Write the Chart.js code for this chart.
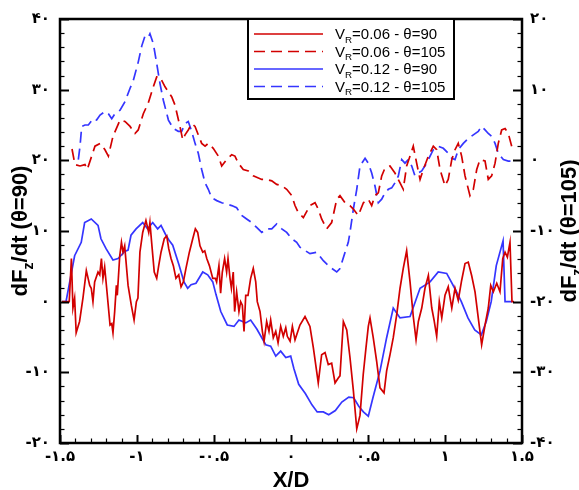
<!DOCTYPE html>
<html><head><meta charset="utf-8">
<script src="https://cdn.jsdelivr.net/npm/chart.js@4.4.1/dist/chart.umd.min.js"></script>
<style>html,body{margin:0;padding:0;background:#fff;}canvas{display:block;}</style>
</head><body>
<canvas id="c" width="579" height="490"></canvas>
<script>
// ---- data (left axis: theta=90 ; right axis: theta=105) ----
const redSolidX = [-1.487,-1.44,-1.426,-1.416,-1.405,-1.395,-1.373,-1.351,-1.329,-1.307,-1.297,-1.286,-1.275,-1.253,-1.242,-1.231,-1.221,-1.21,-1.197,-1.175,-1.164,-1.156,-1.145,-1.134,-1.128,-1.112,-1.101,-1.091,-1.08,-1.058,-1.037,-1.019,-1.004,-0.994,-0.981,-0.963,-0.942,-0.924,-0.916,-0.903,-0.888,-0.872,-0.859,-0.844,-0.823,-0.807,-0.794,-0.779,-0.764,-0.747,-0.729,-0.714,-0.699,-0.682,-0.66,-0.638,-0.621,-0.606,-0.591,-0.573,-0.56,-0.547,-0.53,-0.508,-0.491,-0.483,-0.468,-0.457,-0.446,-0.431,-0.418,-0.409,-0.396,-0.387,-0.375,-0.366,-0.353,-0.338,-0.327,-0.316,-0.305,-0.294,-0.279,-0.262,-0.245,-0.229,-0.219,-0.201,-0.186,-0.175,-0.158,-0.143,-0.132,-0.115,-0.099,-0.084,-0.067,-0.05,-0.034,-0.024,-0.006,0.009,0.026,0.058,0.091,0.123,0.145,0.177,0.199,0.221,0.242,0.264,0.286,0.307,0.318,0.34,0.362,0.383,0.405,0.427,0.448,0.469,0.487,0.502,0.513,0.534,0.556,0.578,0.604,0.621,0.643,0.664,0.686,0.708,0.729,0.751,0.773,0.794,0.812,0.827,0.849,0.87,0.892,0.914,0.929,0.946,0.963,0.979,1.0,1.021,1.044,1.065,1.086,1.108,1.13,1.151,1.173,1.195,1.216,1.238,1.26,1.281,1.297,1.314,1.336,1.357,1.375,1.39,1.405,1.422,1.435,1.448];
const redSolidY = [0,0,6.1,-0.9,0.5,-4.4,-2.8,0.5,4.4,2.3,1.9,0,2.8,4.2,3.8,6.1,3.3,4.9,1.9,-3.3,-3.1,-4.4,-1.4,2.3,0.9,6.5,8.4,7.0,7.9,2.3,-0.5,-2.6,0,0.5,7.0,9.8,11.5,9.8,11.2,7.9,4.2,3.3,5.1,7.0,8.9,9.3,7.5,6.1,5.1,3.3,3.8,2.1,2.8,4.7,7.0,8.9,10.3,9.8,7.9,7.0,7.2,6.1,5.1,3.3,3.3,2.8,5.1,1.2,4.2,6.1,4.2,6.1,3.3,1.9,4.2,-1.4,1.4,-1.4,0,-0.5,-4.2,0.9,0.9,3.3,4.7,2.8,0,-1.4,-4.2,-5.6,-2.8,-4.2,-2.6,-5.1,-4.2,-5.8,-3.5,-4.9,-3.7,-4.9,-5.6,-3.5,-5.4,-3.3,-2.1,-3.5,-6.5,-11.5,-7.5,-7.2,-8.9,-8.7,-11.5,-10.8,-10.5,-2.8,-4.0,-7.9,-12.6,-18.0,-16.1,-10.3,-6.5,-3.5,-2.3,-5.1,-8.4,-12.2,-12.9,-9.8,-7.5,-5.1,-1.9,1.9,4.7,7.2,2.8,-2.1,-5.4,-2.8,-0.9,1.9,3.7,-0.9,-2.6,-4.9,0,-2.3,0.9,2.1,-0.9,1.9,0.2,3.0,5.4,5.6,3.7,1.4,-2.3,-6.1,-3.3,-0.9,2.3,1.4,2.6,1.4,6.1,7.0,6.3,8.4,0,0];

const blueSolidX = [-1.487,-1.461,-1.405,-1.362,-1.34,-1.297,-1.253,-1.234,-1.201,-1.156,-1.123,-1.08,-1.058,-1.039,-1.006,-0.963,-0.931,-0.898,-0.866,-0.844,-0.812,-0.792,-0.768,-0.727,-0.695,-0.671,-0.649,-0.617,-0.573,-0.541,-0.508,-0.487,-0.456,-0.414,-0.37,-0.338,-0.294,-0.262,-0.221,-0.164,-0.132,-0.099,-0.067,-0.034,-0.002,0.019,0.05,0.093,0.136,0.17,0.21,0.245,0.288,0.33,0.375,0.407,0.44,0.47,0.502,0.532,0.578,0.621,0.664,0.708,0.773,0.838,0.903,0.956,1.011,1.063,1.106,1.149,1.193,1.236,1.268,1.3,1.333,1.377,1.39,1.435];
const blueSolidY = [0,0,6.5,8.4,11.2,11.7,10.8,8.9,7.5,5.9,6.1,7.1,7.3,9.4,10.3,11.2,10.3,11.2,10.3,10.8,9.4,8.7,8.0,5.2,2.8,1.9,2.4,2.6,4.2,3.8,2.8,1.0,-1.4,-3.3,-3.5,-2.6,-3.0,-2.6,-3.9,-6.1,-6.3,-7.7,-7.0,-7.9,-7.7,-9.5,-11.7,-13.0,-14.6,-15.6,-15.6,-16.0,-15.4,-14.2,-13.5,-13.6,-14.8,-15.6,-16.2,-13.6,-9.8,-5.1,-0.9,-2.3,-2.1,1.9,2.8,4.2,4.0,1.9,0,-2.3,-4.0,-4.7,-2.8,0,5.1,8.6,0,0];

const redDashX = [-1.422,-1.403,-1.37,-1.338,-1.323,-1.273,-1.24,-1.208,-1.186,-1.156,-1.11,-1.078,-1.045,-1.013,-0.992,-0.959,-0.927,-0.894,-0.872,-0.851,-0.818,-0.796,-0.775,-0.753,-0.721,-0.703,-0.688,-0.667,-0.645,-0.623,-0.602,-0.58,-0.558,-0.537,-0.505,-0.472,-0.45,-0.418,-0.385,-0.364,-0.342,-0.31,-0.277,-0.245,-0.212,-0.19,-0.158,-0.125,-0.093,-0.06,-0.028,0.005,0.026,0.047,0.08,0.123,0.156,0.177,0.199,0.232,0.264,0.297,0.318,0.351,0.383,0.405,0.437,0.47,0.502,0.524,0.545,0.567,0.589,0.61,0.643,0.675,0.708,0.729,0.751,0.773,0.794,0.816,0.838,0.859,0.892,0.924,0.946,0.968,1.0,1.021,1.044,1.065,1.086,1.108,1.13,1.162,1.184,1.206,1.227,1.26,1.281,1.303,1.325,1.346,1.368,1.39,1.411,1.433];
const redDashY = [1.6,-0.6,-0.8,-0.6,-1.3,2.0,2.4,1.5,0.6,3.4,5.7,5.5,4.8,3.8,4.3,6.6,8.1,10.4,11.8,11.8,10.4,9.7,9.0,7.8,4.8,2.9,3.6,4.3,5.2,4.8,3.6,2.4,2.0,2.4,1.7,0.6,-0.8,0.1,0.8,0.6,-0.4,-1.3,-1.5,-2.2,-2.5,-2.7,-2.7,-2.9,-3.4,-3.6,-4.1,-5.0,-6.4,-7.4,-8.1,-6.4,-6.0,-6.9,-8.3,-9.7,-8.8,-5.5,-5.0,-6.0,-6.4,-6.9,-7.8,-6.0,-5.5,-6.4,-5.0,-4.6,-2.2,-1.1,-0.8,-1.8,-3.2,-4.1,-0.8,0.6,2.0,-0.4,-2.7,-1.3,0.6,2.0,1.5,-1.3,-3.6,-2.7,0.1,1.5,2.4,0.6,-2.2,-5.0,-4.1,-1.3,0.1,-0.1,-2.7,-2.2,-0.4,2.4,4.3,4.5,3.8,2.0];

const blueDashX = [-1.381,-1.37,-1.359,-1.338,-1.316,-1.284,-1.262,-1.24,-1.208,-1.186,-1.164,-1.143,-1.11,-1.078,-1.045,-1.024,-0.992,-0.969,-0.948,-0.927,-0.916,-0.894,-0.872,-0.851,-0.829,-0.796,-0.764,-0.732,-0.71,-0.688,-0.667,-0.645,-0.623,-0.602,-0.58,-0.558,-0.537,-0.515,-0.482,-0.45,-0.418,-0.385,-0.353,-0.32,-0.288,-0.255,-0.223,-0.19,-0.158,-0.125,-0.093,-0.06,-0.028,0.005,0.037,0.058,0.123,0.167,0.21,0.253,0.297,0.318,0.351,0.372,0.383,0.405,0.427,0.448,0.481,0.502,0.524,0.545,0.567,0.589,0.61,0.632,0.654,0.675,0.697,0.719,0.74,0.762,0.784,0.805,0.827,0.849,0.881,0.903,0.924,0.956,0.989,1.021,1.044,1.065,1.086,1.119,1.151,1.184,1.216,1.238,1.26,1.281,1.303,1.325,1.346,1.379,1.411,1.433];
const blueDashY = [0.1,2.0,4.8,5.0,5.0,5.9,5.7,6.4,6.9,6.6,5.9,6.6,7.1,8.3,10.2,11.3,13.9,16.2,17.6,17.4,17.9,16.5,13.7,10.9,8.5,5.7,4.5,4.1,4.1,5.2,5.5,4.1,2.4,1.0,-1.3,-3.2,-4.1,-5.3,-5.7,-6.0,-6.2,-6.4,-6.7,-7.8,-8.3,-8.8,-9.5,-10.2,-9.7,-9.7,-9.0,-9.7,-10.2,-11.1,-11.6,-12.3,-13.2,-13.0,-14.2,-15.1,-15.8,-15.3,-13.0,-11.6,-10.2,-6.9,-4.1,-0.8,0.3,-0.4,-1.8,-3.6,-6.0,-5.5,-4.6,-4.1,-3.9,-3.2,-2.2,0.1,-0.4,0.1,-0.8,-2.2,-1.8,-1.5,-0.4,0.6,1.5,2.0,1.7,1.0,0.3,0.1,1.5,2.4,3.1,3.6,4.1,4.8,4.3,3.8,3.4,2.4,1.0,0.1,-0.1,-0.1];

// ---- ticks / labels ----
const xTickValues = [-1.5,-1,-0.5,0,0.5,1,1.5];
const xTickLabels = ['-۱.۵','-۱','-۰.۵','۰','۰.۵','۱','۱.۵'];
const yLeftTickValues = [-20,-10,0,10,20,30,40];
const yLeftTickLabels = ['-۲۰','-۱۰','۰','۱۰','۲۰','۳۰','۴۰'];
const yRightTickValues = [-40,-30,-20,-10,0,10,20];
const yRightTickLabels = ['-۴۰','-۳۰','-۲۰','-۱۰','۰','۱۰','۲۰'];
const legendLabels = [
  [{t:'V'},{t:'R',sub:true},{t:'=0.06 - θ=90'}],
  [{t:'V'},{t:'R',sub:true},{t:'=0.06 - θ=105'}],
  [{t:'V'},{t:'R',sub:true},{t:'=0.12 - θ=90'}],
  [{t:'V'},{t:'R',sub:true},{t:'=0.12 - θ=105'}]
];
const leftTitle = [{t:'dF'},{t:'z',sub:true},{t:'/dt (θ=90)'}];
const rightTitle = [{t:'dF'},{t:'z',sub:true},{t:'/dt (θ=105)'}];
const xTitle = 'X/D';

const RED = '#d20000', BLUE = '#3535ff';
const pts = (xs, ys) => xs.map((x, i) => ({x, y: ys[i]}));
const FONT = '"Liberation Sans", Arial, sans-serif';

function richWidth(ctx, segs, size, bold) {
  let w = 0;
  for (const s of segs) {
    ctx.font = (bold ? 'bold ' : '') + (s.sub ? size * 0.65 : size) + 'px ' + FONT;
    w += ctx.measureText(s.t).width;
  }
  return w;
}
function drawRich(ctx, segs, x, y, size, bold) {
  let cx = x;
  for (const s of segs) {
    ctx.font = (bold ? 'bold ' : '') + (s.sub ? size * 0.65 : size) + 'px ' + FONT;
    ctx.fillText(s.t, cx, y + (s.sub ? size * 0.25 : 0));
    cx += ctx.measureText(s.t).width;
  }
}

const decor = {
  id: 'decor',
  afterDraw(chart) {
    const ctx = chart.ctx, a = chart.chartArea;
    const sx = chart.scales.x, sy = chart.scales.y, sy2 = chart.scales.y2;
    ctx.save();
    // inward tick marks
    ctx.strokeStyle = '#000';
    for (let k = -20; k <= 40; k += 2) {
      const p = Math.round(sy.getPixelForValue(k)) + 0.5;
      const major = k % 10 === 0;
      ctx.lineWidth = major ? 2 : 1.2;
      ctx.beginPath(); ctx.moveTo(a.left, p); ctx.lineTo(a.left + (major ? 9 : 4.5), p); ctx.stroke();
    }
    for (let k = -40; k <= 20; k += 2) {
      const p = Math.round(sy2.getPixelForValue(k)) + 0.5;
      const major = k % 10 === 0;
      ctx.lineWidth = major ? 2 : 1.2;
      ctx.beginPath(); ctx.moveTo(a.right, p); ctx.lineTo(a.right - (major ? 9 : 4.5), p); ctx.stroke();
    }
    for (let k = -15; k <= 15; k++) {
      const p = Math.round(sx.getPixelForValue(k / 10)) + 0.5;
      const major = k % 5 === 0;
      ctx.lineWidth = major ? 2 : 1.2;
      ctx.beginPath(); ctx.moveTo(p, a.bottom); ctx.lineTo(p, a.bottom - (major ? 8 : 4.5)); ctx.stroke();
    }
    // frame
    ctx.lineWidth = 2.5;
    ctx.strokeRect(a.left, a.top, a.right - a.left, a.bottom - a.top);

    // legend
    const lx0 = 248, lx1 = 454, ly0 = a.top, ly1 = 99;
    ctx.fillStyle = '#fff';
    ctx.fillRect(lx0, ly0, lx1 - lx0, ly1 - ly0);
    ctx.lineWidth = 2;
    ctx.strokeStyle = '#000';
    ctx.strokeRect(lx0, ly0, lx1 - lx0, ly1 - ly0);
    const rows = [34, 51.5, 69, 86.5];
    chart.data.datasets.forEach((ds, i) => {
      ctx.strokeStyle = ds.borderColor;
      ctx.lineWidth = 1.7;
      ctx.setLineDash(ds.borderDash || []);
      ctx.beginPath(); ctx.moveTo(254, rows[i]); ctx.lineTo(323, rows[i]); ctx.stroke();
      ctx.setLineDash([]);
      ctx.fillStyle = '#000';
      ctx.textBaseline = 'alphabetic';
      ctx.textAlign = 'left';
      drawRich(ctx, legendLabels[i], 335, rows[i] + 5, 15, false);
    });

    // axis titles
    ctx.fillStyle = '#000';
    ctx.textBaseline = 'alphabetic';
    ctx.textAlign = 'left';
    const cy = (a.top + a.bottom) / 2;
    [[leftTitle, 19], [rightTitle, 568]].forEach(([segs, cx]) => {
      ctx.save();
      ctx.translate(cx, cy);
      ctx.rotate(-Math.PI / 2);
      const w = richWidth(ctx, segs, 22, true);
      drawRich(ctx, segs, -w / 2, 8, 22, true);
      ctx.restore();
    });
    ctx.font = 'bold 22px ' + FONT;
    ctx.textAlign = 'center';
    ctx.fillText(xTitle, (a.left + a.right) / 2, 487);
    ctx.restore();
  }
};

const tickFont = {family: '"DejaVu Sans", sans-serif', size: 15, weight: 'bold'};

new Chart(document.getElementById('c'), {
  type: 'scatter',
  data: {
    datasets: [
      {data: pts(redSolidX, redSolidY), yAxisID: 'y', borderColor: RED, borderWidth: 1.7, showLine: true, pointRadius: 0, fill: false},
      {data: pts(redDashX, redDashY), yAxisID: 'y2', borderColor: RED, borderDash: [11, 6], borderWidth: 1.7, showLine: true, pointRadius: 0, fill: false},
      {data: pts(blueSolidX, blueSolidY), yAxisID: 'y', borderColor: BLUE, borderWidth: 1.7, showLine: true, pointRadius: 0, fill: false},
      {data: pts(blueDashX, blueDashY), yAxisID: 'y2', borderColor: BLUE, borderDash: [11, 6], borderWidth: 1.7, showLine: true, pointRadius: 0, fill: false}
    ]
  },
  options: {
    responsive: false,
    animation: false,
    devicePixelRatio: 1,
    layout: {padding: {top: 15, left: 0, right: 0, bottom: 0}},
    plugins: {legend: {display: false}, tooltip: {enabled: false}},
    scales: {
      x: {
        type: 'linear', min: -1.5, max: 1.5,
        grid: {display: false, drawTicks: false}, border: {display: false},
        afterBuildTicks: s => { s.ticks = xTickValues.map(v => ({value: v})); },
        afterFit: s => { s.height = 47; },
        ticks: {color: '#000', font: tickFont, padding: 5, maxRotation: 0, autoSkip: false,
                callback: v => xTickLabels[xTickValues.indexOf(v)]}
      },
      y: {
        type: 'linear', position: 'left', min: -20, max: 40,
        grid: {display: false, drawTicks: false}, border: {display: false},
        afterBuildTicks: s => { s.ticks = yLeftTickValues.map(v => ({value: v})); },
        afterFit: s => { s.width = 60; },
        ticks: {color: '#000', font: tickFont, padding: 10, autoSkip: false,
                callback: v => yLeftTickLabels[yLeftTickValues.indexOf(v)]}
      },
      y2: {
        type: 'linear', position: 'right', min: -40, max: 20,
        grid: {display: false, drawTicks: false}, border: {display: false},
        afterBuildTicks: s => { s.ticks = yRightTickValues.map(v => ({value: v})); },
        afterFit: s => { s.width = 57; },
        ticks: {color: '#000', font: tickFont, padding: 8, autoSkip: false,
                callback: v => yRightTickLabels[yRightTickValues.indexOf(v)]}
      }
    }
  },
  plugins: [decor]
});
</script>
</body></html>
